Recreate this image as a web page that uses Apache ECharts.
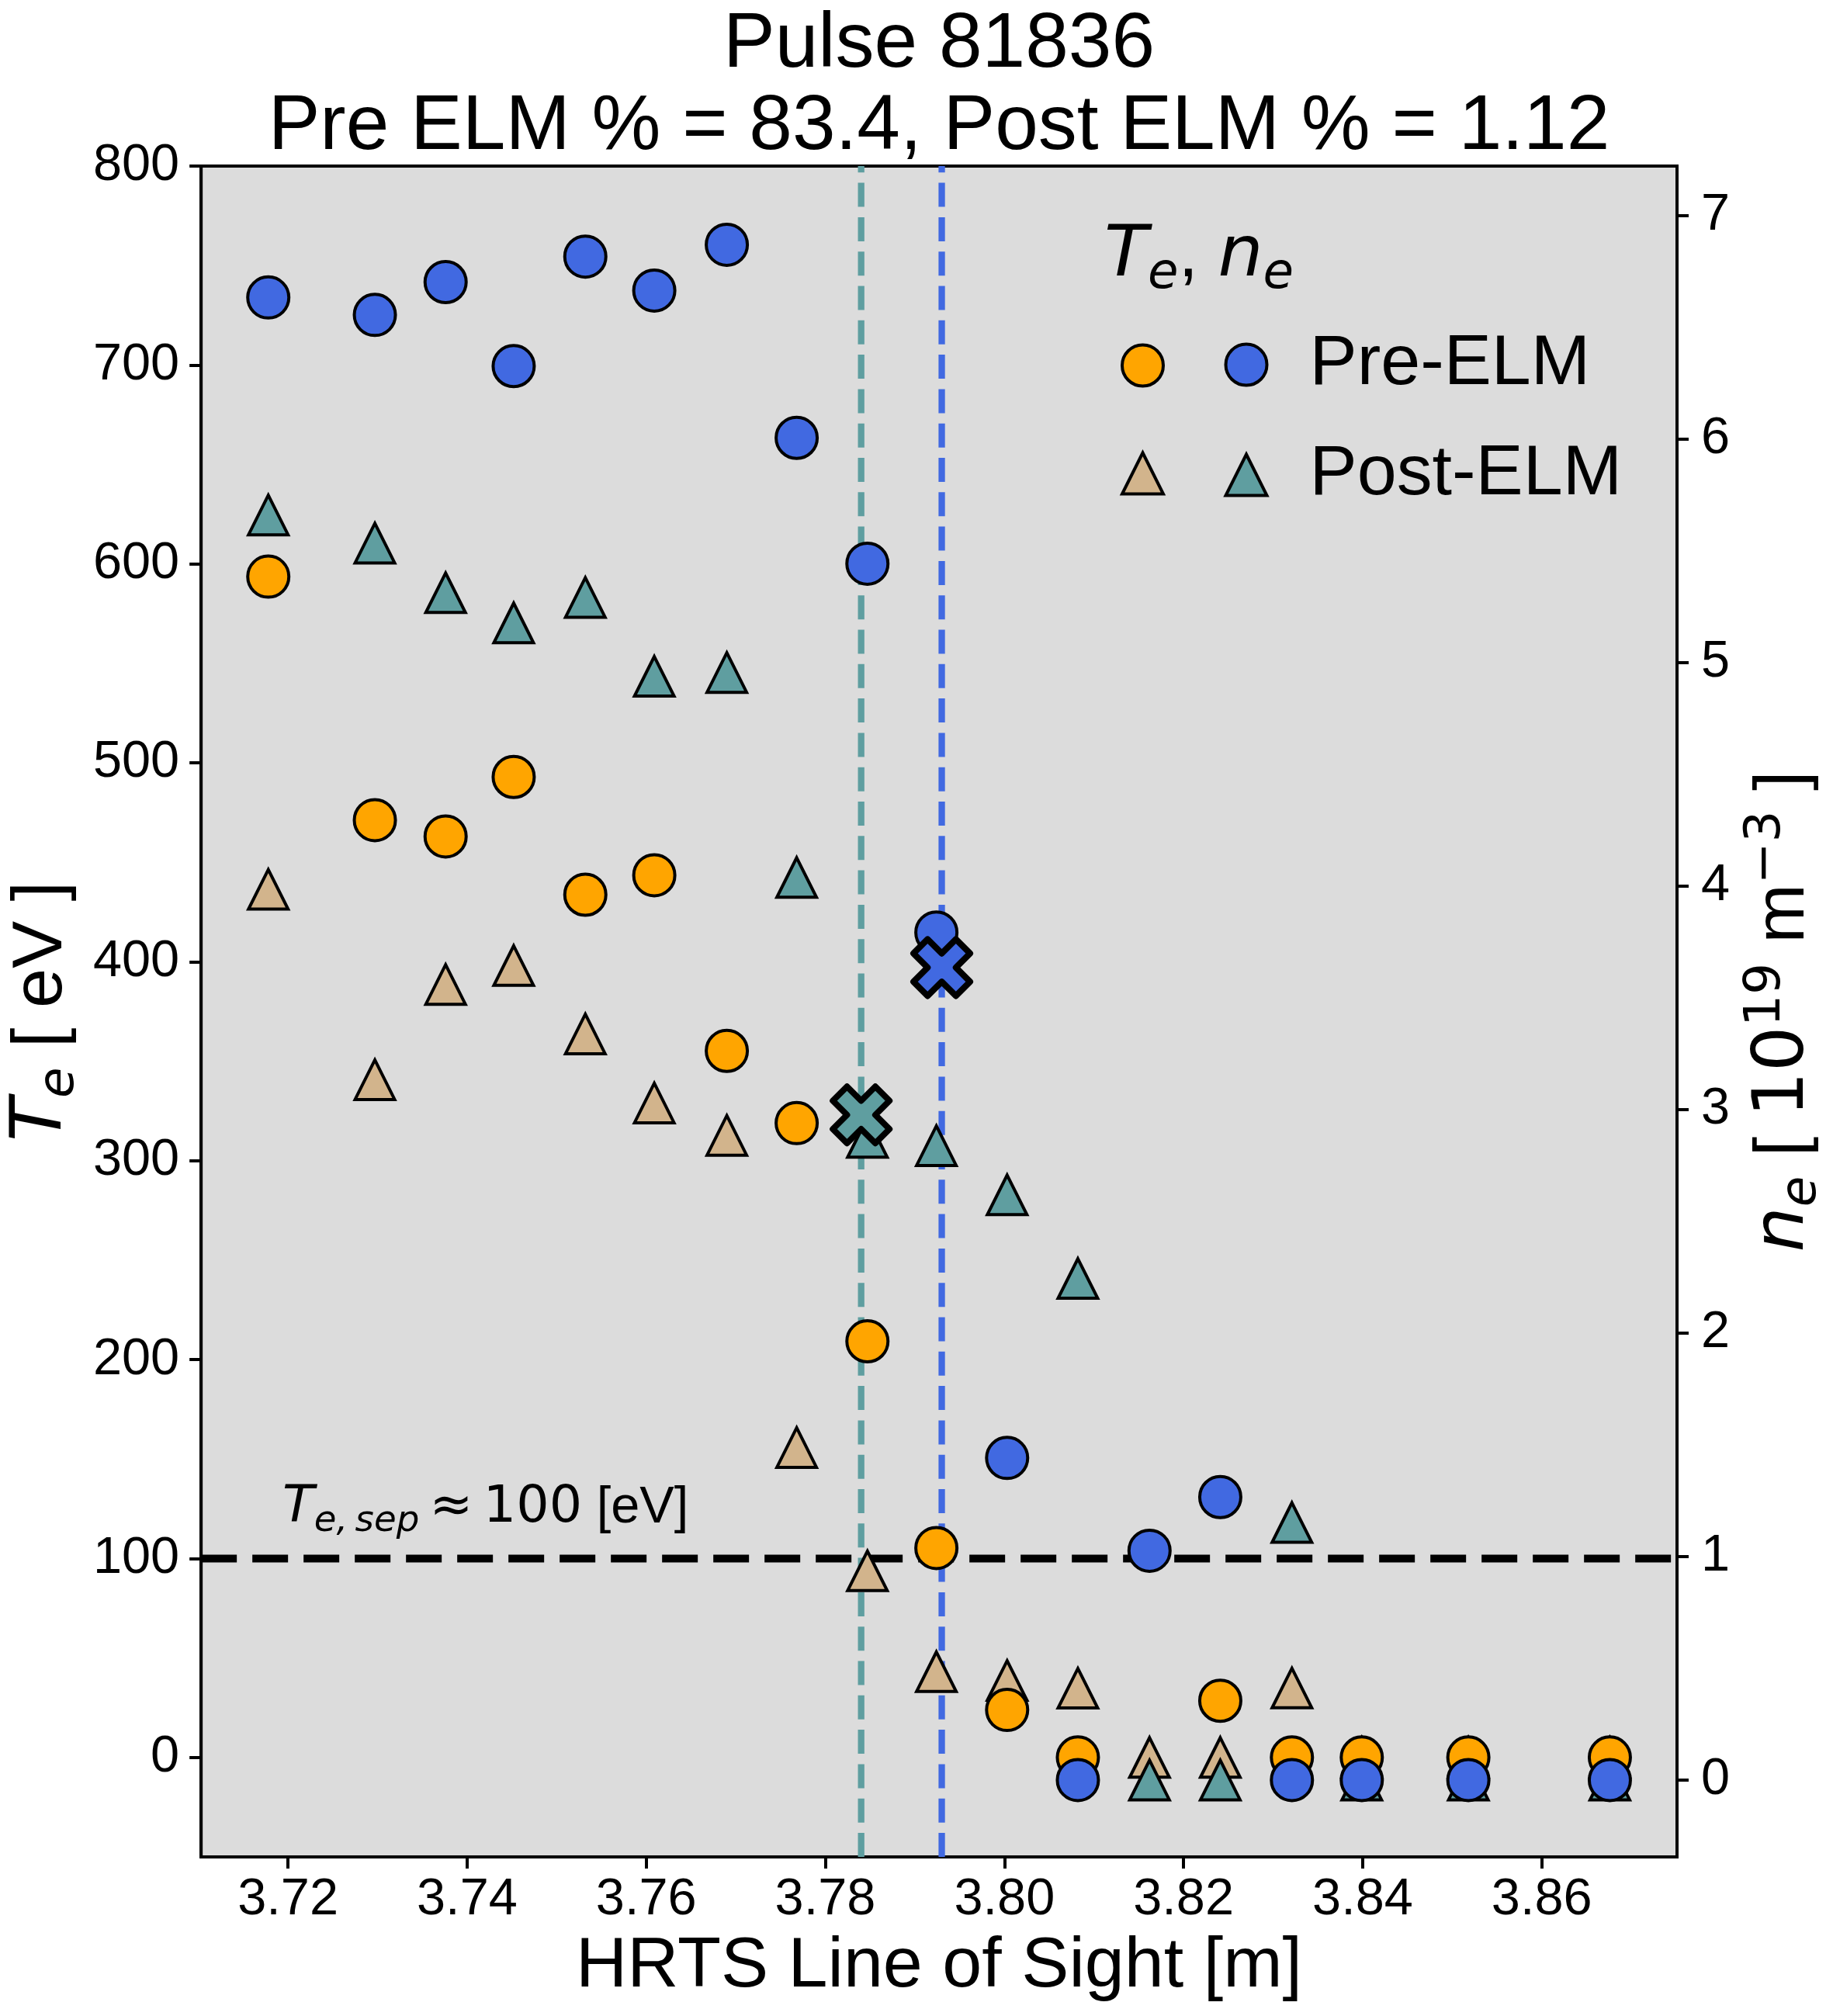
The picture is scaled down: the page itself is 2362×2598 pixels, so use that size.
<!DOCTYPE html>
<html><head><meta charset="utf-8">
<script src="https://cdn.jsdelivr.net/npm/echarts@6/dist/echarts.min.js"></script>
<style>html,body{margin:0;padding:0;background:#fff}#c{width:2362px;height:2598px}</style>
</head><body><div id="c"></div>
<script>
// ---- data ----
const positions = [3.7178, 3.7297, 3.7376, 3.7452, 3.7532, 3.7609, 3.7690, 3.7768, 3.7847, 3.7924, 3.8003, 3.8082, 3.8162, 3.8241, 3.8321, 3.8399, 3.8518, 3.8676];
const tePre  = [593.6, 471.2, 463.0, 492.9, 433.7, 443.5, 355.2, 318.9, 209.2, 105.3, 23.9, 0, null, 28.5, 0, 0, 0, 0];
const nePre  = [6.633, 6.555, 6.702, 6.326, 6.816, 6.664, 6.869, 6.005, 5.442, 3.792, 1.441, 0, 1.026, 1.266, 0, 0, 0, 0];
const tePost = [436.4, 340.7, 388.6, 398.1, 363.7, 329.0, 312.7, 155.8, 93.8, 43.1, 38.7, 34.8, 0, 0, 34.9, 0, 0, 0];
const nePost = [5.660, 5.534, 5.312, 5.177, 5.291, 4.938, 4.955, 4.038, 2.875, 2.838, 2.618, 2.244, 0, 0, 1.152, 0, 0, 0];
const sepPre  = [3.7930, 3.635];   // [position, ne] pre-ELM separatrix
const sepPost = [3.7840, 2.976];   // [position, ne] post-ELM separatrix
const teSep = 100;
const xTicks  = [3.72, 3.74, 3.76, 3.78, 3.80, 3.82, 3.84, 3.86];
const teTicks = [0, 100, 200, 300, 400, 500, 600, 700, 800];
const neTicks = [0, 1, 2, 3, 4, 5, 6, 7];
const xRange = [3.7103, 3.8751];
const teRange = [-50, 800];
const neRange = [-0.344, 7.221];

const C = {orange:'#FFA500', blue:'#4169E1', tan:'#D2B48C', teal:'#5F9EA0'};
const SANS = 'Liberation Sans', MATH = 'DejaVu Sans';
const pairs = (ys) => positions.map((x, i) => [x, ys[i]]).filter(p => p[1] !== null);
const XPATH = 'path://M3 0L4 1L3 2L4 3L3 4L2 3L1 4L0 3L1 2L0 1L1 0L2 1Z';

const chart = echarts.init(document.getElementById('c'), null, {renderer: 'canvas'});
const mathRich = (fb) => ({
  i: {fontFamily: MATH, fontStyle: 'italic', fontSize: fb, lineHeight: 110, color: '#000'},
  s: {fontFamily: MATH, fontStyle: 'italic', fontSize: fb * 0.7, lineHeight: 63, verticalAlign: 'bottom', color: '#000'},
  p: {fontFamily: MATH, fontSize: fb * 0.7, lineHeight: 61, verticalAlign: 'top', color: '#000'},
  m: {fontFamily: MATH, fontSize: fb, lineHeight: 110, color: '#000'},
  r: {fontFamily: SANS, fontSize: fb, lineHeight: 110, color: '#000'}
});
const scatter = (name, data, yi, symbol, size, color, bw, join, z) => ({
  name, type: 'scatter', data, yAxisIndex: yi, symbol, symbolSize: size, z: z || 3,
  itemStyle: {color, borderColor: '#000', borderWidth: bw || 4, borderJoin: join || 'miter', opacity: 1},
  emphasis: {disabled: true}
});
const vline = (x, color) => ({
  type: 'line', data: [[x, teRange[0]], [x, teRange[1]]], yAxisIndex: 0, symbol: 'none', silent: true, z: 2,
  lineStyle: {color, width: 8.3, type: [31, 13.3]}
});

const axisCommon = {
  axisLine: {show: true, onZero: false, lineStyle: {color: '#000', width: 4}},
  splitLine: {show: false}
};

chart.setOption({
  animation: false,
  backgroundColor: '#fff',
  title: {
    text: 'Pulse 81836\nPre ELM % = 83.4, Post ELM % = 1.12',
    left: 1210, top: 5, textAlign: 'center', padding: 0,
    textStyle: {fontFamily: SANS, fontSize: 100, fontWeight: 'normal', lineHeight: 106, color: '#000'}
  },
  grid: {left: 255, right: 197, top: 214, bottom: 205, show: true, backgroundColor: '#DCDCDC', borderColor: '#000', borderWidth: 4},
  xAxis: Object.assign({
    type: 'value', min: xRange[0], max: xRange[1],
    axisTick: {show: true, customValues: xTicks, length: 15, lineStyle: {color: '#000', width: 4}},
    axisLabel: {customValues: xTicks, formatter: v => v.toFixed(2), fontFamily: SANS, fontSize: 66.7, color: '#000', margin: 22},
    name: 'HRTS Line of Sight [m]', nameLocation: 'middle', nameGap: 96,
    nameTextStyle: {fontFamily: SANS, fontSize: 91.7, lineHeight: 92, color: '#000'}
  }, axisCommon),
  yAxis: [
    Object.assign({
      type: 'value', position: 'left', min: teRange[0], max: teRange[1],
      axisTick: {show: true, customValues: teTicks, length: 15, lineStyle: {color: '#000', width: 4}},
      axisLabel: {customValues: teTicks, fontFamily: SANS, fontSize: 66.7, color: '#000', margin: 28},
      name: '{i|T}{s|e}{r| [ eV ]}', nameLocation: 'middle', nameGap: 149, nameRotate: 90,
      nameTextStyle: {rich: mathRich(91.7)}
    }, axisCommon),
    Object.assign({
      type: 'value', position: 'right', min: neRange[0], max: neRange[1],
      axisTick: {show: true, customValues: neTicks, length: 15, lineStyle: {color: '#000', width: 4}},
      axisLabel: {customValues: neTicks, fontFamily: SANS, fontSize: 66.7, color: '#000', margin: 31},
      name: '{i|n}{s|e}{r| [ }{m|10}{p|19}{r| m}{p|\u22123}{r| ]}', nameLocation: 'middle', nameGap: 83, nameRotate: 90,
      nameTextStyle: {rich: mathRich(91.7)}
    }, axisCommon)
  ],
  legend: [
    {
      orient: 'vertical', left: 1444, top: 442.5, padding: 0, itemWidth: 53, itemHeight: 53, itemGap: 82,
      selectedMode: false, formatter: () => '', textStyle: {fontSize: 10, lineHeight: 53},
      data: [
        {name: 'Te pre', icon: 'circle', itemStyle: {color: C.orange, borderColor: '#000', borderWidth: 4}},
        {name: 'Te post', icon: 'triangle', itemStyle: {color: C.tan, borderColor: '#000', borderWidth: 4}}
      ]
    },
    {
      orient: 'vertical', left: 1577.5, top: 424, padding: 0, itemWidth: 53, itemHeight: 53, itemGap: 50,
      selectedMode: false, formatter: n => (n === 'ne pre' ? 'Pre-ELM' : 'Post-ELM'),
      textStyle: {fontFamily: SANS, fontSize: 91.7, lineHeight: 53, color: '#000', padding: [0, 0, 0, 50]},
      data: [
        {name: 'ne pre', icon: 'circle', itemStyle: {color: C.blue, borderColor: '#000', borderWidth: 4}},
        {name: 'ne post', icon: 'triangle', itemStyle: {color: C.teal, borderColor: '#000', borderWidth: 4}}
      ]
    }
  ],
  graphic: [
    {
      type: 'text', x: 1423, y: 276, z: 10, silent: true,
      style: {text: '{i|T}{s|e}{r|, }{i|n}{s|e}', rich: mathRich(91.7), verticalAlign: 'top', align: 'left'}
    },
    {
      type: 'text', x: 364, y: 1904, z: 10, silent: true,
      style: {
        text: '{i|T}{s|e,\u2009sep}{m|\u2009\u2248\u2009100}{r| [eV]}', verticalAlign: 'top', align: 'left',
        rich: {
          i: {fontFamily: MATH, fontStyle: 'italic', fontSize: 66.7, lineHeight: 80, fill: '#000'},
          s: {fontFamily: MATH, fontStyle: 'italic', fontSize: 46.7, lineHeight: 46, verticalAlign: 'bottom', fill: '#000'},
          m: {fontFamily: MATH, fontSize: 66.7, lineHeight: 80, fill: '#000'},
          r: {fontFamily: SANS, fontSize: 66.7, lineHeight: 80, fill: '#000'}
        }
      }
    }
  ],
  series: [
    {
      type: 'line', data: [[xRange[0], teSep], [xRange[1], teSep]], yAxisIndex: 0, symbol: 'none', silent: true, z: 2,
      lineStyle: {color: '#000', width: 10, type: [46, 20]}
    },
    vline(sepPost[0], C.teal),
    vline(sepPre[0], C.blue),
    scatter('Te post', pairs(tePost), 0, 'triangle', 51, C.tan),
    scatter('ne post', pairs(nePost), 1, 'triangle', 51, C.teal),
    scatter('Te pre', pairs(tePre), 0, 'circle', 53, C.orange),
    scatter('ne pre', pairs(nePre), 1, 'circle', 53, C.blue),
    scatter('sep post', [sepPost], 1, XPATH, 73, C.teal, 8, 'round', 4),
    scatter('sep pre', [sepPre], 1, XPATH, 73, C.blue, 8, 'round', 4)
  ]
});
</script>
</body></html>
